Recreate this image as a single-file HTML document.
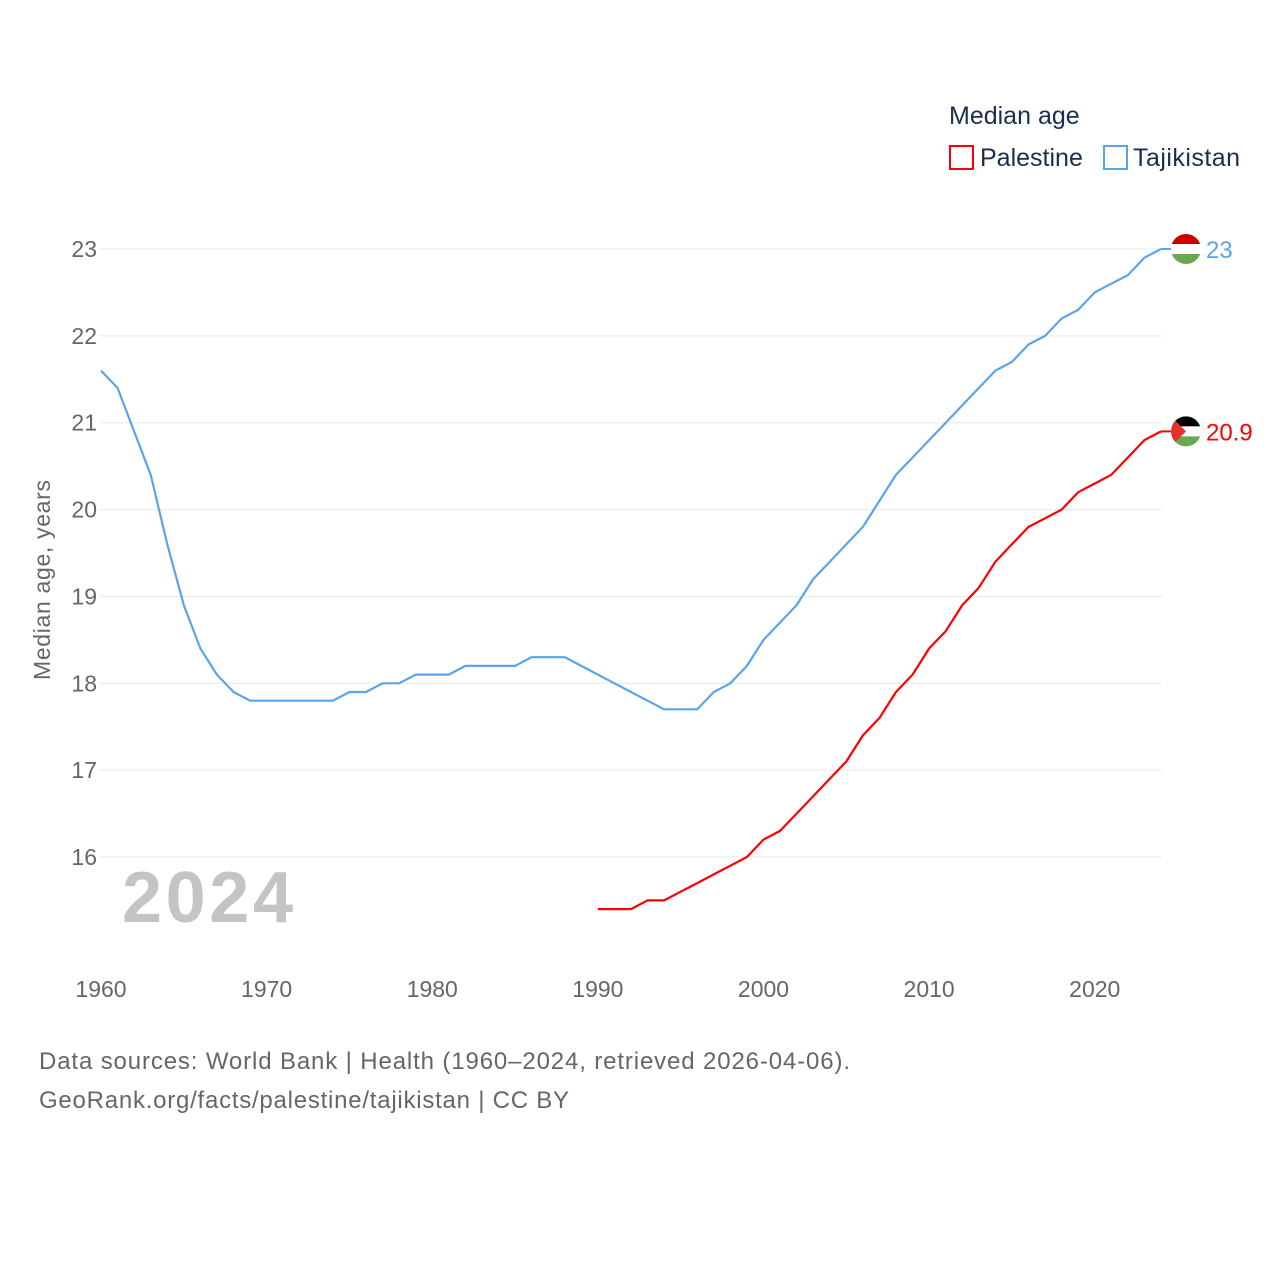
<!DOCTYPE html>
<html><head><meta charset="utf-8"><style>
html,body{margin:0;padding:0;background:#fff;width:1280px;height:1280px;overflow:hidden;font-family:"Liberation Sans",sans-serif}
</style></head><body>
<svg id="chart" width="1280" height="1280" xmlns="http://www.w3.org/2000/svg" font-family="Liberation Sans, sans-serif">
<text x="949" y="124" font-size="25" fill="#1a2e4f">Median age</text>
<g><rect x="950" y="146" width="23" height="23" fill="none" stroke="#ff0000" stroke-width="2"/><text x="980" y="166" font-size="25" fill="#1a2e4f">Palestine</text></g>
<g><rect x="1104" y="146" width="23" height="23" fill="none" stroke="#5ba4ea" stroke-width="2"/><text x="1133" y="166" font-size="25" fill="#1a2e4f" textLength="107">Tajikistan</text></g>
<text transform="translate(50,580) rotate(-90)" text-anchor="middle" font-size="23" fill="#666" textLength="200">Median age, years</text>
<text x="122" y="922" font-size="72" font-weight="bold" fill="#c4c4c4" textLength="171">2024</text>
<g id="grid"></g><g id="lines"></g>
<text x="39" y="1069" font-size="24" fill="#666" textLength="811">Data sources: World Bank | Health (1960–2024, retrieved 2026-04-06).</text>
<text x="39" y="1108" font-size="24" fill="#666" textLength="530">GeoRank.org/facts/palestine/tajikistan | CC BY</text>
</svg>
<script>
const yTicks=[16,17,18,19,20,21,22,23];
const xTicks=[1960,1970,1980,1990,2000,2010,2020];
const tjkYears=[];for(let y=1960;y<=2024;y++)tjkYears.push(y);
const tjkValues=[21.6,21.4,20.9,20.4,19.6,18.9,18.4,18.1,17.9,17.8,17.8,17.8,17.8,17.8,17.8,17.9,17.9,18.0,18.0,18.1,18.1,18.1,18.2,18.2,18.2,18.2,18.3,18.3,18.3,18.2,18.1,18.0,17.9,17.8,17.7,17.7,17.7,17.9,18.0,18.2,18.5,18.7,18.9,19.2,19.4,19.6,19.8,20.1,20.4,20.6,20.8,21.0,21.2,21.4,21.6,21.7,21.9,22.0,22.2,22.3,22.5,22.6,22.7,22.9,23.0];
const pseYears=[];for(let y=1990;y<=2024;y++)pseYears.push(y);
const pseValues=[15.4,15.4,15.4,15.5,15.5,15.6,15.7,15.8,15.9,16.0,16.2,16.3,16.5,16.7,16.9,17.1,17.4,17.6,17.9,18.1,18.4,18.6,18.9,19.1,19.4,19.6,19.8,19.9,20.0,20.2,20.3,20.4,20.6,20.8,20.9];
const X=yr=>101+(yr-1960)*(1161-101)/64;
const Y=v=>857-(v-16)*(857-249)/7;
const NS='http://www.w3.org/2000/svg';
const grid=document.getElementById('grid'),lines=document.getElementById('lines');
function mk(tag,attrs,parent){const e=document.createElementNS(NS,tag);for(const k in attrs)e.setAttribute(k,attrs[k]);parent.appendChild(e);return e;}
yTicks.forEach(v=>{
 const l=mk('line',{x1:100,x2:1162,y1:Y(v),y2:Y(v),stroke:'#e8e8e8','stroke-width':1},grid);
 
 
 const t=mk('text',{x:97,y:Y(v)+8,'text-anchor':'end','font-size':23,fill:'#666'},grid);
 t.textContent=v;
 
 
});
xTicks.forEach(v=>{
 const t=mk('text',{x:X(v),y:997,'text-anchor':'middle','font-size':23,fill:'#666'},grid);
 t.textContent=v;
 
 
});
function series(years,vals,color,name){
 const d=years.map((yr,i)=>(i?'L':'M')+X(yr).toFixed(1)+' '+Y(vals[i]).toFixed(1)).join(' ');
 const p=mk('path',{d:d,fill:'none',stroke:color,'stroke-width':2.2,'stroke-linejoin':'round'},lines);
 
 
 const last=vals[vals.length-1];
 const c=mk('line',{x1:X(years[years.length-1]),x2:1172,y1:Y(last),y2:Y(last),stroke:color,'stroke-width':2},lines);
 
 
}
series(tjkYears,tjkValues,'#5ba4ea','tajikistan');
series(pseYears,pseValues,'#ff0000','palestine');
function flag(cx,cy,bands,tri,name,val,color){
 const g=mk('g',{},lines);
 
 
 const id='c'+name;
 const cp=mk('clipPath',{id:id},g);mk('circle',{cx:cx,cy:cy,r:15},cp);
 const gg=mk('g',{'clip-path':'url(#'+id+')'},g);
 bands.forEach((c,i)=>mk('rect',{x:cx-15,y:cy-15+i*10,width:30,height:10,fill:c},gg));
 if(tri)mk('polygon',{points:(cx-15)+','+(cy-15)+' '+(cx)+','+cy+' '+(cx-15)+','+(cy+15),fill:'#e4312b'},gg);
 const t=mk('text',{x:cx+20,y:cy+9,'font-size':24,fill:color},lines);
 t.textContent=val;
 
 
}
const tLast=tjkValues[tjkValues.length-1],pLast=pseValues[pseValues.length-1];
flag(1186,Y(tLast),['#cc0000','#ffffff','#6aa84f'],false,'tajikistan',tLast,'#5ba4ea');
flag(1186,Y(pLast),['#000000','#ffffff','#6aa84f'],true,'palestine',pLast,'#ff0000');
</script>
</body></html>
